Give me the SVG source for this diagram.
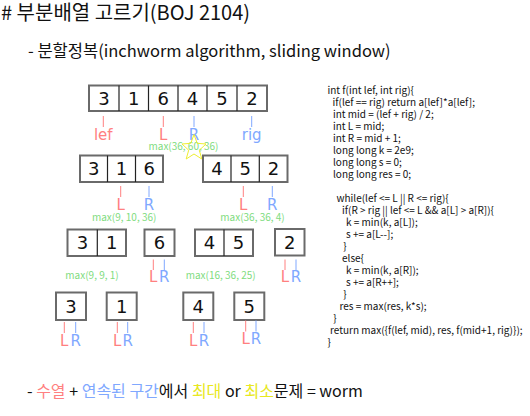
<svg xmlns="http://www.w3.org/2000/svg" width="530" height="416" viewBox="0 0 530 416">
<style>
.box{fill:#fff;stroke:#6a6a6a;stroke-width:2}
.div{stroke:#222;stroke-width:1.2}
.dg{font-family:"DejaVu Sans",sans-serif;font-size:18px;text-anchor:middle;fill:#111}
.lr{font-family:"DejaVu Sans",sans-serif;font-size:15px;text-anchor:middle}
.r{fill:#ff8080;stroke:#ff8080}
.b{fill:#80a8ff;stroke:#80a8ff}
.ml{stroke-width:1;fill:none}
.lt{stroke:none}
.mx{font-family:"Noto Sans CJK KR",sans-serif;font-size:10px;fill:#80dc80;text-anchor:middle}
.hd{font-family:"Noto Sans CJK KR",sans-serif;fill:#111}
.code{font-family:"Noto Sans CJK KR",sans-serif;font-size:10px;fill:#111}
</style>
<rect width="530" height="416" fill="#fff"/>
<text class="hd" x="1" y="20" font-size="20"># 부분배열 고르기(BOJ 2104)</text>
<text class="hd" x="28" y="56.5" font-size="16.5">- 분할정복(inchworm algorithm, sliding window)</text>

<g id="row1">
<rect class="box" x="89" y="85.5" width="178" height="25.5"/>
<line class="div" x1="119" y1="85.5" x2="119" y2="111"/>
<line class="div" x1="148.5" y1="85.5" x2="148.5" y2="111"/>
<line class="div" x1="178" y1="85.5" x2="178" y2="111"/>
<line class="div" x1="207" y1="85.5" x2="207" y2="111"/>
<line class="div" x1="237" y1="85.5" x2="237" y2="111"/>
<text class="dg" x="104" y="105">3</text><text class="dg" x="133.8" y="105">1</text><text class="dg" x="163.3" y="105">6</text><text class="dg" x="192.5" y="105">4</text><text class="dg" x="222" y="105">5</text><text class="dg" x="252" y="105">2</text>
</g>
<g id="row1-marks">
<line class="ml r" x1="103.3" y1="116" x2="103.3" y2="127"/><text class="lr r lt" x="103.3" y="140">lef</text>
<line class="ml r" x1="163.3" y1="116" x2="163.3" y2="127"/><text class="lr r lt" x="163.3" y="140">L</text>
<line class="ml b" x1="194" y1="116" x2="194" y2="127"/><text class="lr b lt" x="194" y="140">R</text>
<line class="ml b" x1="251.7" y1="116" x2="251.7" y2="127"/><text class="lr b lt" x="251.7" y="140">rig</text>
<text class="mx" x="183.5" y="150">max(36, 60, 36)</text>
<polygon points="194,134.5 197.2,143.3 206,144 199.3,150.2 201.8,159 194,154 186.2,159 188.7,150.2 182,144 190.8,143.3" fill="none" stroke="#eeee30" stroke-width="1"/>
</g>

<g id="row2-left">
<rect class="box" x="80" y="155.5" width="83" height="26.5"/>
<line class="div" x1="107.5" y1="155.5" x2="107.5" y2="182"/>
<line class="div" x1="135.5" y1="155.5" x2="135.5" y2="182"/>
<text class="dg" x="93.7" y="175">3</text><text class="dg" x="121.5" y="175">1</text><text class="dg" x="149.3" y="175">6</text>
</g>
<g id="row2-right">
<rect class="box" x="203" y="155.5" width="84.5" height="26.5"/>
<line class="div" x1="231" y1="155.5" x2="231" y2="182"/>
<line class="div" x1="259.3" y1="155.5" x2="259.3" y2="182"/>
<text class="dg" x="217" y="175">4</text><text class="dg" x="245.2" y="175">5</text><text class="dg" x="273.5" y="175">2</text>
</g>
<g id="row2-marks">
<line class="ml r" x1="120.7" y1="186" x2="120.7" y2="197"/><text class="lr r lt" x="120.7" y="209.5">L</text>
<line class="ml b" x1="149" y1="186" x2="149" y2="197"/><text class="lr b lt" x="149" y="209.5">R</text>
<line class="ml r" x1="243.3" y1="186" x2="243.3" y2="197"/><text class="lr r lt" x="243.3" y="209.5">L</text>
<line class="ml b" x1="272.3" y1="186" x2="272.3" y2="197"/><text class="lr b lt" x="272.3" y="209.5">R</text>
<text class="mx" x="124.2" y="221">max(9, 10, 36)</text>
<text class="mx" x="252.5" y="221">max(36, 36, 4)</text>
</g>

<g id="row3-31">
<rect class="box" x="67.5" y="229.5" width="58.5" height="26.5"/>
<line class="div" x1="97.3" y1="229.5" x2="97.3" y2="256"/>
<text class="dg" x="82.4" y="249">3</text><text class="dg" x="111.7" y="249">1</text>
</g>
<g id="row3-6">
<rect class="box" x="144.5" y="229.5" width="30" height="26.5"/>
<text class="dg" x="159.5" y="249">6</text>
</g>
<g id="row3-45">
<rect class="box" x="195" y="229.5" width="58" height="26.5"/>
<line class="div" x1="224" y1="229.5" x2="224" y2="256"/>
<text class="dg" x="209.5" y="249">4</text><text class="dg" x="238.5" y="249">5</text>
</g>
<g id="row3-2">
<rect class="box" x="275" y="229" width="29.5" height="26.5"/>
<text class="dg" x="289.8" y="249">2</text>
</g>
<g id="row3-marks">
<line class="ml r" x1="153.3" y1="259.5" x2="153.3" y2="270"/><text class="lr r lt" x="153.3" y="282">L</text>
<line class="ml b" x1="164.3" y1="259.5" x2="164.3" y2="270"/><text class="lr b lt" x="164.3" y="282">R</text>
<line class="ml r" x1="285" y1="259.5" x2="285" y2="270"/><text class="lr r lt" x="285" y="282">L</text>
<line class="ml b" x1="296" y1="259.5" x2="296" y2="270"/><text class="lr b lt" x="296" y="282">R</text>
<text class="mx" x="92" y="278.5">max(9, 9, 1)</text>
<text class="mx" x="220.7" y="278.5">max(16, 36, 25)</text>
</g>

<g id="row4-3"><rect class="box" x="56" y="292.5" width="30" height="27.5"/><text class="dg" x="71" y="312.5">3</text></g>
<g id="row4-1"><rect class="box" x="106.7" y="292.5" width="30" height="27.5"/><text class="dg" x="121.7" y="312.5">1</text></g>
<g id="row4-4"><rect class="box" x="183.3" y="292.5" width="30" height="27.5"/><text class="dg" x="198.3" y="312.5">4</text></g>
<g id="row4-5"><rect class="box" x="234.3" y="292.5" width="30" height="27.5"/><text class="dg" x="249.3" y="312.5">5</text></g>
<g id="row4-marks">
<line class="ml r" x1="64.3" y1="322" x2="64.3" y2="333"/><text class="lr r lt" x="64.3" y="345.5">L</text>
<line class="ml b" x1="75.7" y1="322" x2="75.7" y2="333"/><text class="lr b lt" x="75.7" y="345.5">R</text>
<line class="ml r" x1="117.3" y1="322" x2="117.3" y2="333"/><text class="lr r lt" x="117.3" y="345.5">L</text>
<line class="ml b" x1="127.7" y1="322" x2="127.7" y2="333"/><text class="lr b lt" x="127.7" y="345.5">R</text>
<line class="ml r" x1="193.3" y1="322" x2="193.3" y2="333"/><text class="lr r lt" x="193.3" y="345.5">L</text>
<line class="ml b" x1="204" y1="322" x2="204" y2="333"/><text class="lr b lt" x="204" y="345.5">R</text>
<line class="ml r" x1="245.7" y1="320.5" x2="245.7" y2="331.5"/><text class="lr r lt" x="245.7" y="344">L</text>
<line class="ml b" x1="256" y1="320.5" x2="256" y2="331.5"/><text class="lr b lt" x="256" y="344">R</text>
</g>

<g id="code" class="code">
<text x="327.5" y="93.5">int f(int lef, int rig){</text>
<text x="332.5" y="105.5">if(lef == rig) return a[lef]*a[lef];</text>
<text x="333" y="117.5">int mid = (lef + rig)  / 2;</text>
<text x="333" y="129.5">int L = mid;</text>
<text x="333" y="141.5">int R = mid + 1;</text>
<text x="333" y="153.5">long long k = 2e9;</text>
<text x="333" y="165.5">long long s = 0;</text>
<text x="333" y="177.5">long long res = 0;</text>
<text x="336.5" y="201.5">while(lef &lt;= L || R &lt;= rig){</text>
<text x="342" y="213.5">if(R &gt; rig || lef &lt;= L &amp;&amp; a[L] &gt; a[R]){</text>
<text x="346" y="225.5">k = min(k, a[L]);</text>
<text x="346" y="237.5">s += a[L--];</text>
<text x="343.3" y="249.5">}</text>
<text x="342" y="261.5">else{</text>
<text x="346" y="273.5">k = min(k, a[R]);</text>
<text x="346" y="285.5">s += a[R++];</text>
<text x="343.3" y="297.5">}</text>
<text x="339.5" y="309.5">res = max(res, k*s);</text>
<text x="333.3" y="321.5">}</text>
<text x="330" y="333.5">return max({f(lef, mid), res, f(mid+1, rig)});</text>
<text x="327.5" y="345.5">}</text>
</g>

<text class="hd" x="27" y="397" font-size="16">- <tspan fill="#ff8080">수열</tspan> + <tspan fill="#80a8ff">연속된 구간</tspan>에서 <tspan fill="#e8e820">최대</tspan> or <tspan fill="#e8e820">최소</tspan>문제 = worm</text>
</svg>
